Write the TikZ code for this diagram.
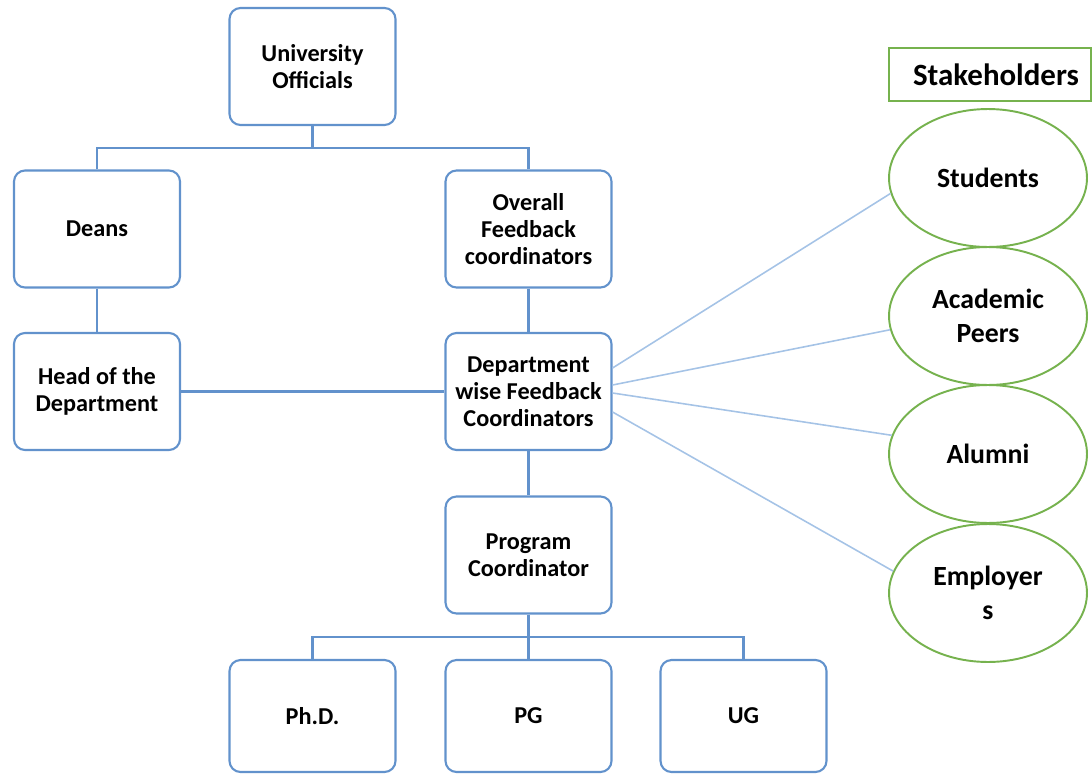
\documentclass[tikz,border=0pt]{standalone}
\usepackage{fontspec}
\setmainfont{Carlito}
\usetikzlibrary{shapes.geometric}
\definecolor{boxblue}{RGB}{98,146,204}
\definecolor{lineblue}{RGB}{165,195,230}
\definecolor{stgreen}{RGB}{118,178,78}
\tikzset{
  orgbox/.style={draw=boxblue, line width=1.2pt, rounded corners=0.22cm, fill=white,
    minimum width=3.32cm, minimum height=2.34cm, inner sep=0pt, align=center,
    font=\fontsize{13.8}{15.5}\selectfont\bfseries},
  lowbox/.style={orgbox, minimum height=2.24cm},
  orgline/.style={draw=boxblue, line width=1.2pt},
  stline/.style={draw=lineblue, line width=0.9pt},
  stell/.style={ellipse, draw=stgreen, line width=1.1pt, fill=white,
    minimum width=3.96cm, minimum height=2.76cm, inner sep=0pt, align=center,
    font=\fontsize{15.8}{19.3}\selectfont\bfseries},
  sttitle/.style={draw=stgreen, line width=0.9pt, minimum width=4.04cm, minimum height=1.06cm,
    inner sep=0pt, font=\fontsize{17.6}{20}\selectfont\bfseries}
}
\begin{document}
\begin{tikzpicture}[x=0.02cm, y=-0.02cm]
\useasboundingbox (0,0) rectangle (1092,774);
% org chart boxes
\node[orgbox] (uni)   at (312.5,66.5) {University\\Officials};
\node[orgbox] (deans) at (97,229)     {Deans};
\node[orgbox] (ofc)   at (528.5,229)  {Overall\\Feedback\\coordinators};
\node[orgbox] (hod)   at (97,391.5)   {Head of the\\Department};
\node[orgbox] (dwfc)  at (528.5,391.5){Department\\wise Feedback\\Coordinators};
\node[orgbox] (pc)    at (528.5,555)  {Program\\Coordinator};
\node[lowbox] (phd)   at (312.5,716)  {Ph.D.};
\node[lowbox] (pg)    at (528.5,716)  {PG};
\node[lowbox] (ug)    at (743.5,716)  {UG};
\coordinate (bus1) at (0,148);
\coordinate (bus2) at (0,637);
% org chart connectors
\draw[orgline] (uni.south) -- (uni.south |- bus1);
\draw[orgline] (deans.north) -- (deans.north |- bus1) -| (ofc.north);
\draw[orgline] (deans.south) -- (hod.north);
\draw[orgline] (ofc.south) -- (dwfc.north);
\draw[orgline] (hod.east) -- (dwfc.west);
\draw[orgline] (dwfc.south) -- (pc.north);
\draw[orgline] (pc.south) -- (pg.north);
\draw[orgline] (phd.north) -- (phd.north |- bus2) -| (ug.north);
% stakeholders
\node[sttitle] (sth) at (990,74.5) {\hspace{0.24cm}Stakeholders};
\node[stell] (stu) at (988,178) {Students};
\node[stell] (aca) at (988,316) {Academic\\Peers};
\node[stell] (alu) at (988,454) {Alumni};
\node[stell] (emp) at (988,593) {Employer\\s};
\draw[stline] ([yshift=0.47cm]dwfc.east) -- (stu.189);
\draw[stline] ([yshift=0.13cm]dwfc.east) -- (aca.188);
\draw[stline] ([yshift=-0.03cm]dwfc.east) -- (alu.169);
\draw[stline] ([yshift=-0.41cm]dwfc.east) -- (emp.167);
\end{tikzpicture}
\end{document}
